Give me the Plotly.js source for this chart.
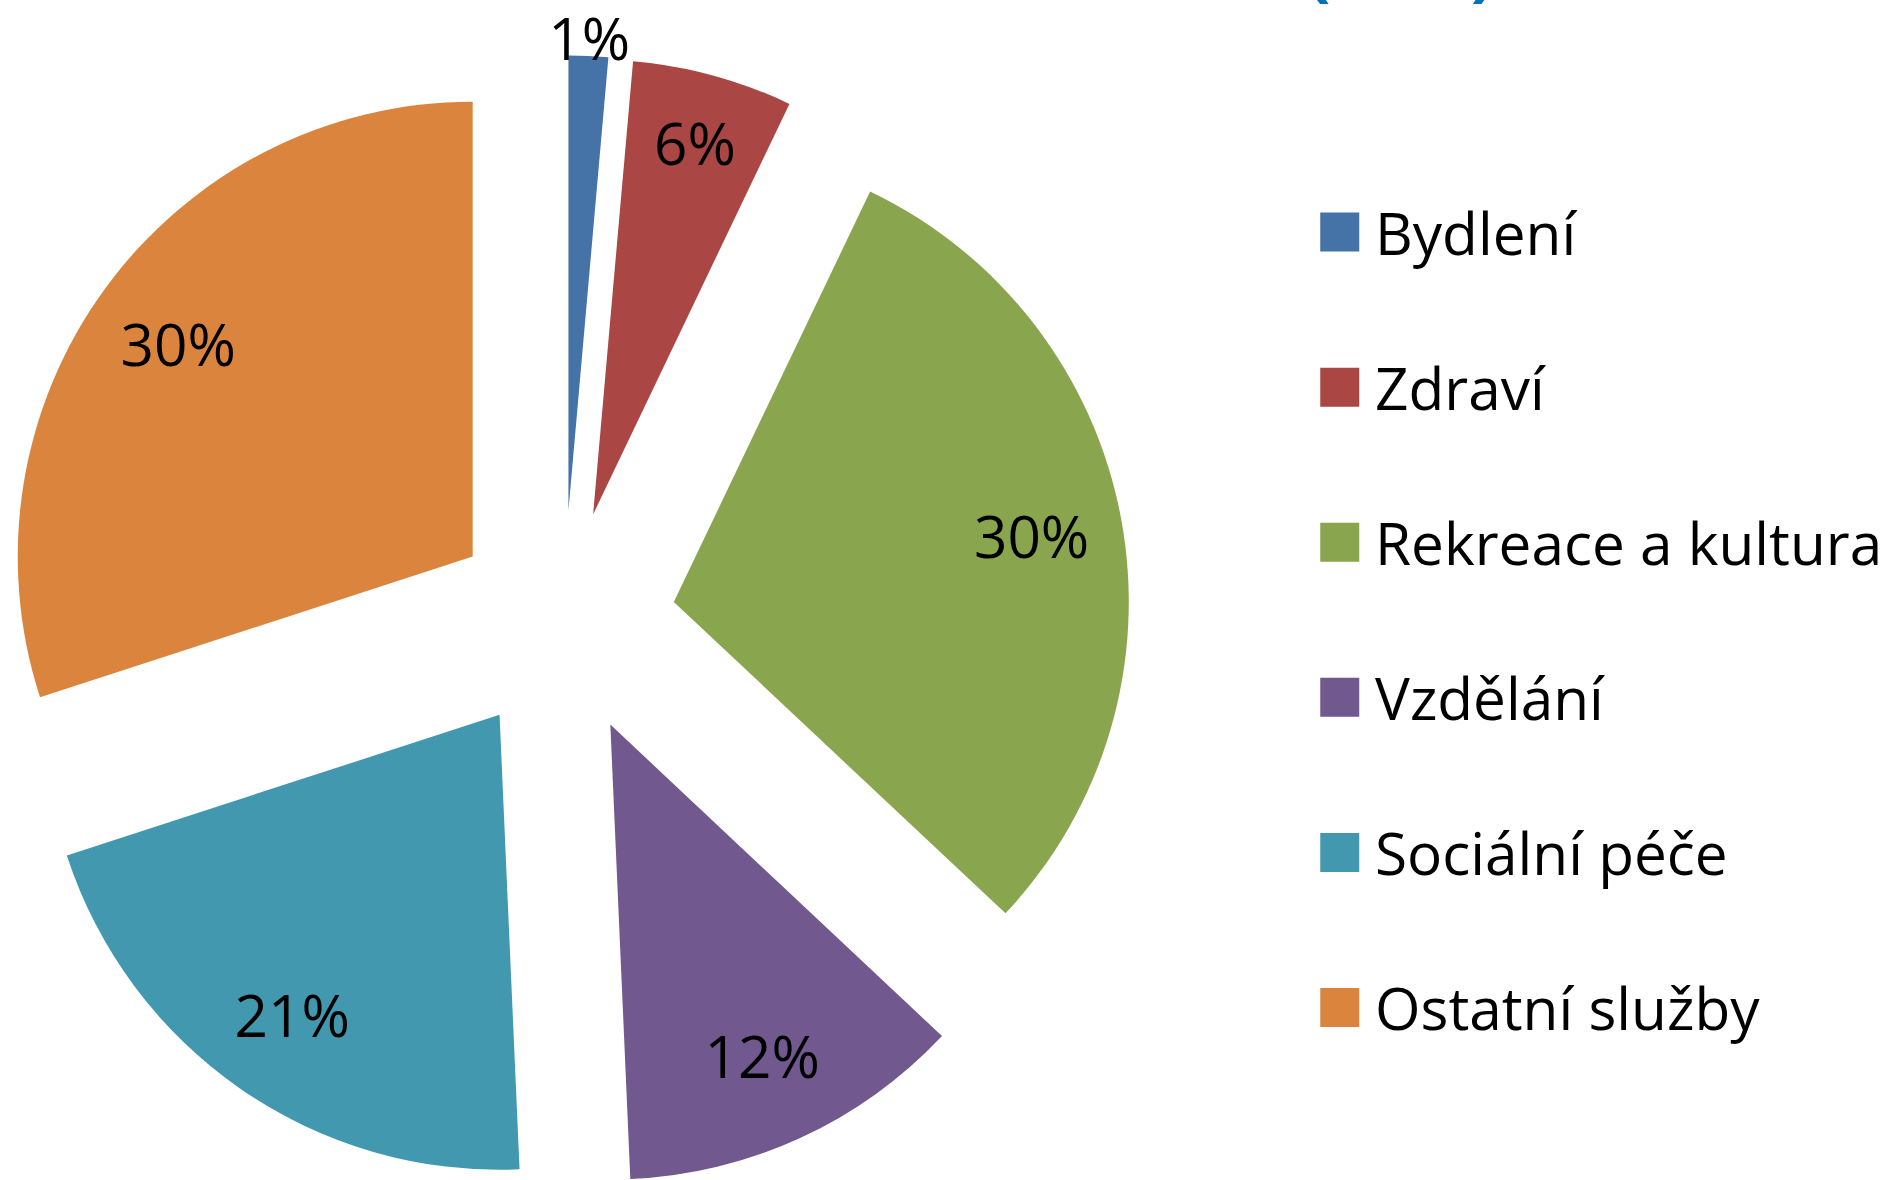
<!DOCTYPE html>
<html>
<head>
<meta charset="utf-8">
<script src="https://cdn.plot.ly/plotly-3.0.1.min.js"></script>
<style>
html, body { margin: 0; padding: 0; overflow: hidden; background: #ffffff; width: 1892px; height: 1180px; }
#chart { position: absolute; left: -60px; top: -40px; width: 2100px; height: 1300px; }
</style>
</head>
<body>
<div id="chart"></div>
<script>
// ---- data ----
const categories = ["Bydlení", "Zdraví", "Rekreace a kultura", "Vzdělání", "Sociální péče", "Ostatní služby"];
const shares = [1.4, 5.7, 29.9, 12.3, 20.7, 30.0];
const colors = ["#4572A7", "#AA4643", "#89A54E", "#71588F", "#4198AF", "#DB843D"];

const FONT = "Open Sans, DejaVu Sans, sans-serif";
const explode = categories.map(() => 0.2467);
// label carrier: the thin first slice's label sits a bit further out
const labelPull = categories.map((c, i) => (i === 0 ? 0.33 : 0.2467));

// colored, exploded wedges (legend comes from this trace)
const wedges = {
  type: "pie",
  labels: categories.map(c => c + "<br>\u00a0"),
  values: shares,
  sort: false,
  direction: "clockwise",
  rotation: 0,
  pull: explode,
  marker: { colors: colors, line: { width: 0 } },
  textinfo: "none",
  hoverinfo: "label+percent",
  domain: { x: [0.02681, 0.56700], y: [0.05400, 0.92662] },
  showlegend: true
};

// transparent ring carrying the percentage labels (pushes labels outward like Excel)
const labelsRing = {
  type: "pie",
  labels: categories.map(c => c + "<br>\u00a0"),
  values: shares,
  sort: false,
  direction: "clockwise",
  rotation: 0,
  pull: labelPull,
  hole: 0.6,
  marker: { colors: categories.map(() => "rgba(0,0,0,0)"), line: { width: 0 } },
  texttemplate: "%{percent:.0%}",
  textposition: "inside",
  insidetextorientation: "horizontal",
  textfont: { family: FONT, size: 58.5, color: "#000000" },
  hoverinfo: "skip",
  domain: { x: [0.008738, 0.585071], y: [0.024808, 0.955808] },
  showlegend: false
};

const layout = {
  width: 2100,
  height: 1300,
  margin: { l: 0, r: 0, t: 0, b: 0 },
  paper_bgcolor: "#ffffff",
  plot_bgcolor: "#ffffff",
  font: { family: FONT, color: "#000000" },
  uniformtext: { mode: "show", minsize: 58 },
  showlegend: true,
  legend: {
    x: 0.656429, xanchor: "left",
    y: 0.825, yanchor: "top",
    font: { family: FONT, size: 58.5, color: "#000000" },
    valign: "top",
    itemwidth: 46.5,
    bgcolor: "rgba(0,0,0,0)",
    borderwidth: 0
  },
  annotations: [{
    xref: "paper", yref: "paper",
    x: 0.695476, y: 0.956923,
    xanchor: "center", yanchor: "bottom",
    showarrow: false,
    text: "<b>(\u2003\u2003)</b>",
    font: { family: FONT, size: 70, color: "#0070C0" }
  }]
};

Plotly.newPlot("chart", [wedges, labelsRing], layout, { displayModeBar: false, staticPlot: true }).then(() => {
  document.querySelectorAll("path.legendpie").forEach(p => {
    p.setAttribute("d", "M12.5,19.5H-26.5V-19.5H12.5Z");
  });
});
</script>
</body>
</html>
